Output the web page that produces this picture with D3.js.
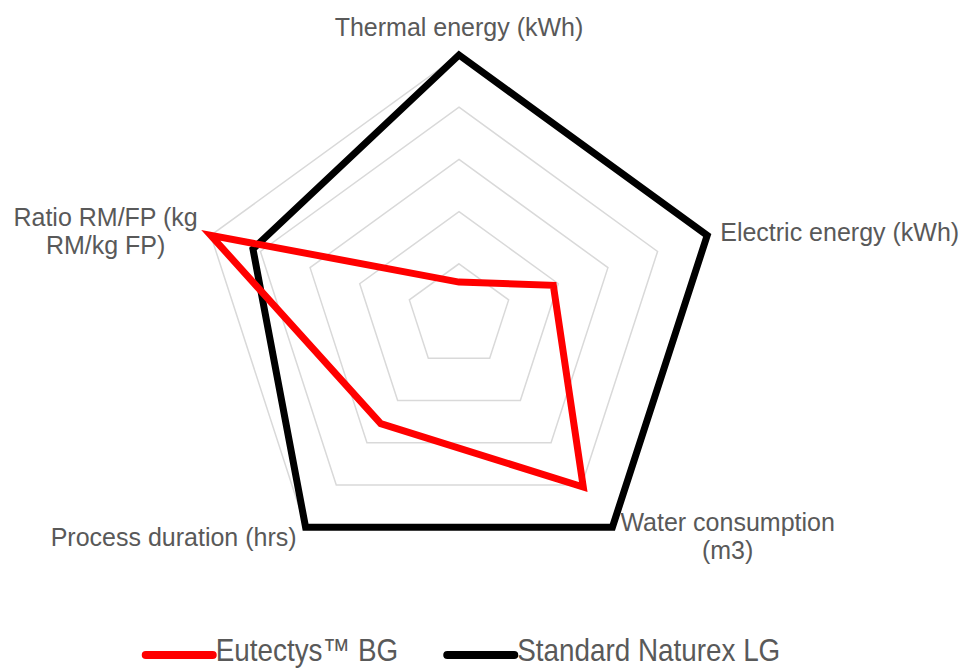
<!DOCTYPE html>
<html>
<head>
<meta charset="utf-8">
<script src="https://cdn.jsdelivr.net/npm/d3@7"></script>
<style>
  html, body { margin: 0; padding: 0; background: #fff; }
  svg { display: block; }
</style>
</head>
<body>
<svg id="chart" width="963" height="670"></svg>
<script>
// Radar axes (each label split into its display lines)
const axisLabels = [
  ["Thermal energy (kWh)"],
  ["Electric energy (kWh)"],
  ["Water consumption", "(m3)"],
  ["Process duration (hrs)"],
  ["Ratio RM/FP (kg", "RM/kg FP)"]
];

// Normalised values per axis
const eutectysValues = [0.13, 0.38, 0.81, 0.51, 1.0];
const naturexValues  = [1.0, 1.0, 1.0, 1.0, 0.83];

// Grid rings
const gridTicks = [0.2, 0.4, 0.6, 0.8, 1.0];

const seriesNames  = ["Eutectys™ BG", "Standard Naturex LG"];
const seriesColors = ["#ff0000", "#000000"];

const svg = d3.select("#chart");
const cx = 459, cy = 316, R = 261;
const textColor = "#595959";

const r = d3.scaleLinear().domain([0, 1]).range([0, R]);
const n = axisLabels.length;
const angle = d3.scaleLinear().domain([0, n]).range([0, 2 * Math.PI]);

const g = svg.append("g").attr("transform", `translate(${cx},${cy})`);

const radial = d3.lineRadial()
  .angle((d, i) => angle(i))
  .radius(d => r(d))
  .curve(d3.curveLinearClosed);

// grid pentagons
g.selectAll("path.grid")
  .data(gridTicks)
  .join("path")
  .attr("class", "grid")
  .attr("d", t => radial(d3.range(n).map(() => t)))
  .attr("fill", "none")
  .attr("stroke", "#d9d9d9")
  .attr("stroke-width", 1.5);

// series polygons (black below red)
const series = [
  { name: seriesNames[1], values: naturexValues, color: seriesColors[1] },
  { name: seriesNames[0], values: eutectysValues, color: seriesColors[0] }
];
g.selectAll("path.series")
  .data(series)
  .join("path")
  .attr("class", "series")
  .attr("d", s => radial(s.values))
  .attr("fill", "none")
  .attr("stroke", d => d.color)
  .attr("stroke-width", 7)
  .attr("stroke-linejoin", "miter")
  .attr("stroke-miterlimit", 10);

// axis labels
const fontSize = 25, lineH = 28;
axisLabels.forEach((lines, i) => {
  const a = angle(i);
  const vx = Math.sin(a) * r(1), vy = -Math.cos(a) * r(1);
  const lab = g.append("text")
    .attr("font-family", "'Liberation Sans', Arial, sans-serif")
    .attr("font-size", fontSize)
    .attr("fill", textColor)
    .attr("text-anchor", "middle");
  const spans = lines.map(l => lab.append("tspan").text(l));
  const widths = spans.map(s => s.node().getComputedTextLength());
  const bw = d3.max(widths);
  let bx, by; // block centre
  const sx = Math.sin(a);
  if (Math.abs(sx) < 0.01) {
    bx = vx; by = vy - 28;
  } else if (sx > 0) {
    bx = vx + (sx > 0.8 ? 13 : 8) + bw / 2;
    by = vy + (vy < 0 ? -3 : 9.5);
  } else {
    bx = vx - (sx < -0.8 ? 13 : 9) - bw / 2;
    by = vy + (vy < 0 ? -4 : 10);
  }
  const top = by - (lines.length - 1) * lineH / 2;
  spans.forEach((s, k) => {
    s.attr("x", bx).attr("y", top + k * lineH).attr("dy", "0.35em");
  });
});

// legend: condensed face; squeeze regular face if no narrow face is installed
const legendFont = 32;
const narrowFamily = "'Liberation Sans Narrow', 'Arial Narrow', sans-serif";
const probe = svg.append("g").attr("opacity", 0);
const wNarrow = probe.append("text").attr("font-family", narrowFamily)
  .attr("font-size", legendFont).text(seriesNames[1]).node().getComputedTextLength();
const wRegular = probe.append("text").attr("font-family", "'Liberation Sans', sans-serif")
  .attr("font-size", legendFont).text(seriesNames[1]).node().getComputedTextLength();
probe.remove();
const squeeze = wNarrow > 0.9 * wRegular ? 0.87 : 1;

const legend = svg.append("g");
const legendY = 655, lineLen = 67, gapText = 3, gapItem = 49;
const items = seriesNames.map((name, i) => {
  const it = legend.append("g");
  it.append("line")
    .attr("x1", 0).attr("x2", lineLen)
    .attr("y1", 0).attr("y2", 0)
    .attr("stroke", seriesColors[i])
    .attr("stroke-width", 8)
    .attr("stroke-linecap", "round");
  const t = it.append("text")
    .attr("transform", `translate(${lineLen + gapText},6) scale(${squeeze},1)`)
    .attr("font-family", narrowFamily)
    .attr("font-size", legendFont)
    .attr("fill", textColor)
    .text(name);
  return { it, w: lineLen + gapText + t.node().getComputedTextLength() * squeeze };
});
const total = d3.sum(items, d => d.w) + gapItem * (items.length - 1);
let x0 = 463 - total / 2;
items.forEach(d => {
  d.it.attr("transform", `translate(${x0},${legendY})`);
  x0 += d.w + gapItem;
});
</script>
</body>
</html>
